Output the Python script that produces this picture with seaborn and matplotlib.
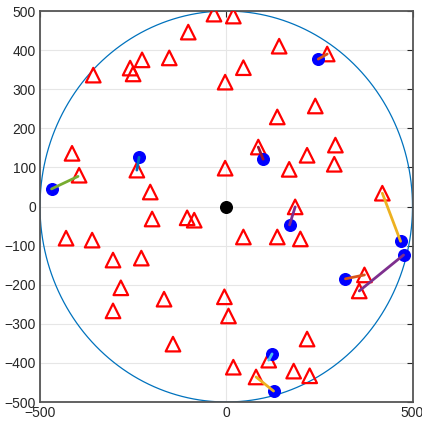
import numpy as np
import pandas as pd
import matplotlib
matplotlib.use("Agg")
import matplotlib.pyplot as plt
import seaborn as sns

# ---- data ----
tri_x = [-33, 19, -102, 142, 271, 46, -226, -153, -258, -250, -357, -414, -395, -240, -204,
         -3, 239, 137, 86, 293, 217, 290, 169, -3, 419, 185,
         -430, -360, -304, -228, -283, -167, -304, -143, -199, -105, -86,
         46, 137, 199, 371, 357, -5, 6, 217, 114, 19, 181, 224, 80]
tri_y = [492, 487, 446, 410, 390, 355, 375, 380, 354, 339, 336, 136, 80, 93, 37,
         318, 257, 229, 152, 157, 131, 108, 95, 98, 34, -1,
         -81, -86, -137, -132, -208, -237, -267, -352, -32, -29, -35,
         -78, -78, -83, -175, -216, -231, -280, -339, -393, -411, -421, -433, -436]

node_x = [-469, -234, 247, 99, 468, 170, 476, 320, 123, 127]
node_y = [45, 126, 377, 121, -89, -47, -124, -185, -377, -472]
link_x = [-398, -240, 271, 86, 419, 185, 357, 371, 114, 80]
link_y = [77, 93, 390, 152, 34, -1, -216, -175, -393, -436]
link_colors = ["#77AC30", "#0072BD", "#D95319", "#A2142F", "#EDB120",
               "#7E2F8E", "#7E2F8E", "#D95319", "#4DBEEE", "#EDB120"]

center = (0, 0)
radius = 500

x_ticks = [-500, 0, 500]
y_ticks = list(range(-500, 501, 100))

# ---- plot ----
sns.set_style("white")
plt.rcParams['font.family'] = ['Liberation Sans', 'DejaVu Sans']

fig = plt.figure(figsize=(4.22, 4.28), dpi=100)
ax = fig.add_axes([40/422, 26/428, 372.5/422, 391/428])

theta = np.linspace(0, 2*np.pi, 400)
circ = pd.DataFrame({"x": center[0] + radius*np.cos(theta),
                     "y": center[1] + radius*np.sin(theta), "t": theta})
sns.lineplot(data=circ, x="x", y="y", sort=False, estimator=None, ax=ax,
             color="#0072BD", linewidth=0.9, zorder=2)

tri = pd.DataFrame({"x": tri_x, "y": tri_y})
sns.scatterplot(data=tri, x="x", y="y", marker="^", s=110, facecolor="none",
                edgecolor="#FF0000", linewidth=1.6, ax=ax, zorder=3)

nodes = pd.DataFrame({"x": node_x, "y": node_y})
sns.scatterplot(data=nodes, x="x", y="y", marker="o", s=70, color="#0000FF",
                edgecolor="#0000FF", linewidth=1, ax=ax, zorder=4)
sns.scatterplot(x=[center[0]], y=[center[1]], marker="o", s=70, color="black",
                edgecolor="black", linewidth=1, ax=ax, zorder=4)

for i in range(len(node_x)):
    seg = pd.DataFrame({"x": [node_x[i], link_x[i]], "y": [node_y[i], link_y[i]]})
    sns.lineplot(data=seg, x="x", y="y", sort=False, estimator=None, ax=ax,
                 color=link_colors[i], linewidth=2.0, zorder=5)

ax.set_xlim(-500, 500)
ax.set_ylim(-500, 500)
ax.set_xticks(x_ticks)
ax.set_yticks(y_ticks)
ax.set_xlabel("")
ax.set_ylabel("")
ax.grid(True, color="#e6e6e6", linewidth=0.8, zorder=0)
ax.set_axisbelow(True)
ax.tick_params(direction="in", length=4, width=0.8, colors="#262626",
               labelsize=10, top=True, right=True, labeltop=False, labelright=False,
               pad=3)
ax.tick_params(axis="both", labelcolor="#262626")
for s in ax.spines.values():
    s.set_color("#555555")
    s.set_linewidth(1.3)

fig.savefig("out.png", dpi=100)
